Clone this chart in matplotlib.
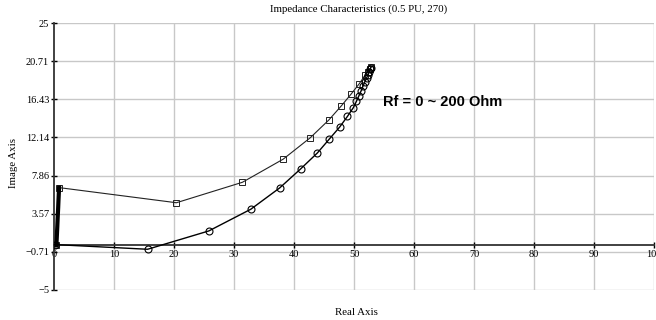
import matplotlib
matplotlib.use("Agg")
import matplotlib.pyplot as plt

# square-marker trajectory
sq_real = [0.4, 0.45, 0.5, 0.55, 0.6, 0.65, 0.7, 0.75, 0.8, 0.85,
           20.4, 31.4, 38.2, 42.7, 45.8, 47.9, 49.5, 50.9, 51.9, 52.3, 52.6, 52.9]
sq_imag = [0.0, 0.7, 1.4, 2.1, 2.9, 3.6, 4.3, 5.1, 5.8, 6.5,
           4.8, 7.1, 9.7, 12.1, 14.1, 15.7, 17.0, 18.2, 19.2, 19.5, 19.8, 20.1]

# circle-marker trajectory
ci_real = [0.1, 15.6, 25.8, 32.8, 37.6, 41.1, 43.9, 45.9, 47.6, 48.9, 49.9,
           50.4, 50.8, 51.2, 51.5, 51.8, 52.1, 52.3, 52.5, 52.7, 52.8]
ci_imag = [0.1, -0.43, 1.63, 4.07, 6.46, 8.6, 10.4, 11.97, 13.3, 14.5, 15.5,
           16.2, 16.8, 17.4, 17.9, 18.4, 18.8, 19.2, 19.5, 19.8, 20.0]

x_ticks = [0, 10, 20, 30, 40, 50, 60, 70, 80, 90, 100]
y_ticks = [25, 20.71, 16.43, 12.14, 7.86, 3.57, -0.71, -5]
y_tick_labels = ["25", "20.71", "16.43", "12.14", "7.86", "3.57", "\u22120.71", "\u22125"]

serif = ["Liberation Serif", "DejaVu Serif"]

fig = plt.figure(figsize=(6.56, 3.2), dpi=100)
ax = fig.add_axes([0.0823, 0.094, 0.9147, 0.834])
ax.set_xlim(0, 100)
ax.set_ylim(-5, 25)

# grid
for xv in x_ticks[1:]:
    ax.axvline(xv, color="#c8c8c8", lw=1.0, zorder=0)
for yv in y_ticks:
    ax.axhline(yv, color="#c8c8c8", lw=1.0, zorder=0)

for s in ["top", "right"]:
    ax.spines[s].set_visible(False)
ax.spines["bottom"].set_position(("data", 0))
ax.spines["left"].set_position(("data", 0))
ax.spines["bottom"].set_color("#333333")
ax.spines["left"].set_color("#333333")
ax.spines["bottom"].set_linewidth(1.3)
ax.spines["left"].set_linewidth(1.3)

ax.set_xticks(x_ticks)
ax.set_xticklabels([str(v) for v in x_ticks], family=serif, fontsize=7.5)
ax.set_yticks(y_ticks)
ax.set_yticklabels(y_tick_labels, family=serif, fontsize=7.5)
ax.tick_params(axis="both", direction="inout", length=5, width=1.0, color="black", pad=1)

# markers near the origin overlap into a solid stroke, so only ends are marked
sq_marks = [0, 9] + list(range(10, len(sq_real)))
ax.plot(sq_real, sq_imag, color="#222222", lw=0.8, marker="s", markersize=4.5,
        markevery=sq_marks, markerfacecolor="none", markeredgecolor="#222222",
        markeredgewidth=0.7, zorder=3)
ax.plot(ci_real, ci_imag, color="black", lw=1.0, marker="o", markersize=5,
        markerfacecolor="none", markeredgecolor="black", markeredgewidth=0.8, zorder=3)
# heavy segment near origin
ax.plot(sq_real[:10], sq_imag[:10], color="black", lw=3.0, zorder=4)

ax.text(54.8, 16.1, "Rf = 0 ~ 200 Ohm", family=["Liberation Sans", "DejaVu Sans"],
        fontsize=10.5, fontweight="bold", va="center", ha="left")

fig.text(0.547, 0.972, "Impedance Characteristics (0.5 PU, 270)", family=serif,
         fontsize=7.8, ha="center", va="center")
fig.text(0.544, 0.022, "Real Axis", family=serif, fontsize=7.8, ha="center", va="center")
fig.text(0.02, 0.49, "Image Axis", family=serif, fontsize=7.8, ha="center", va="center",
         rotation=90)

fig.savefig("out.png", dpi=100)
